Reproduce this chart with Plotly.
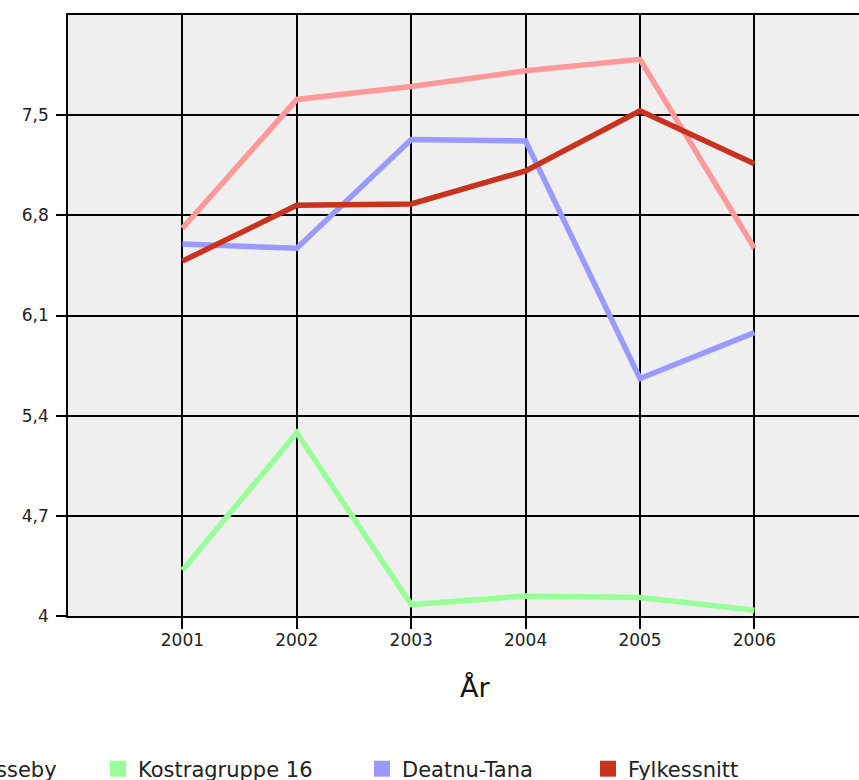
import plotly.graph_objects as go

years = [2001, 2002, 2003, 2004, 2005, 2006]
nesseby = [6.71, 7.61, 7.70, 7.81, 7.89, 6.57]
kostra16 = [4.32, 5.28, 4.08, 4.14, 4.13, 4.04]
tana = [6.60, 6.57, 7.33, 7.32, 5.66, 5.98]
fylke = [6.48, 6.87, 6.88, 7.11, 7.53, 7.16]

series_names = ["Unjárga-Nesseby", "Kostragruppe 16", "Deatnu-Tana", "Fylkessnitt"]
series_vals = [nesseby, kostra16, tana, fylke]
colors = ["#FF9999", "#99FF99", "#9999FF", "#C8321E"]

ytick_vals = [4, 4.7, 5.4, 6.1, 6.8, 7.5]
ytick_text = ["4", "4,7", "5,4", "6,1", "6,8", "7,5"]

W, H = 859, 780
ML, MR, MT, MB = 68, 0, 15, 164
PW = W - ML - MR

fig = go.Figure()
for name, vals, col in zip(series_names, series_vals, colors):
    fig.add_trace(go.Scatter(x=years, y=vals, mode="lines", name=name,
                             line=dict(color=col, width=5.5), showlegend=False,
                             hoverinfo="x+y+name"))

# legend swatches (one legend per entry so each can be placed like the original)
legend_text_start = [-122, 138, 402, 628]
legend_keys = ["legend", "legend2", "legend3", "legend4"]
for name, col, key in zip(series_names, colors, legend_keys):
    fig.add_trace(go.Scatter(x=[None], y=[None], mode="markers", name=name,
                             marker=dict(symbol="square", size=16, color=col),
                             legend=key, showlegend=True))

font_family = "DejaVu Sans"
layout_legends = {}
for key, ts in zip(legend_keys, legend_text_start):
    layout_legends[key] = dict(
        orientation="h", xref="paper", yref="paper",
        x=(ts - 40 - ML) / PW, y=-(769 - (H - MB)) / (H - MT - MB),
        xanchor="left", yanchor="middle",
        font=dict(family=font_family, size=21, color="#222"),
        bgcolor="rgba(0,0,0,0)", itemsizing="trace",
    )

fig.update_layout(
    width=W, height=H,
    margin=dict(l=ML, r=MR, t=MT, b=MB, autoexpand=False),
    paper_bgcolor="white", plot_bgcolor="#EFEFEF",
    font=dict(family=font_family, color="#222"),
    xaxis=dict(range=[2000, 2000 + PW / 114.4], tickvals=years,
               ticktext=[str(y) for y in years],
               showgrid=True, gridcolor="#000", gridwidth=1.5,
               showline=True, linecolor="#000", linewidth=1.5, mirror=True,
               ticks="outside", ticklen=11, tickcolor="#000", tickwidth=1.5,
               tickfont=dict(size=17, color="#222"), zeroline=False,
               ticklabelstandoff=-3),
    yaxis=dict(range=[4, 8.2], tickvals=ytick_vals, ticktext=ytick_text,
               showgrid=True, gridcolor="#000", gridwidth=1.5,
               showline=True, linecolor="#000", linewidth=1.5, mirror=False,
               ticks="outside", ticklen=10, tickcolor="#000", tickwidth=1.5,
               tickfont=dict(size=17, color="#222"), zeroline=False,
               ticklabelstandoff=4),
    annotations=[dict(text="År", xref="paper", yref="paper",
                      x=(475 - ML) / PW, y=-(688 - (H - MB)) / (H - MT - MB),
                      xanchor="center", yanchor="middle", showarrow=False,
                      font=dict(family=font_family, size=27, color="#111"))],
    **layout_legends,
)

fig.write_html("out.html", config={"displayModeBar": False},
               post_script="document.body.style.margin='0';document.body.style.overflow='hidden';")
